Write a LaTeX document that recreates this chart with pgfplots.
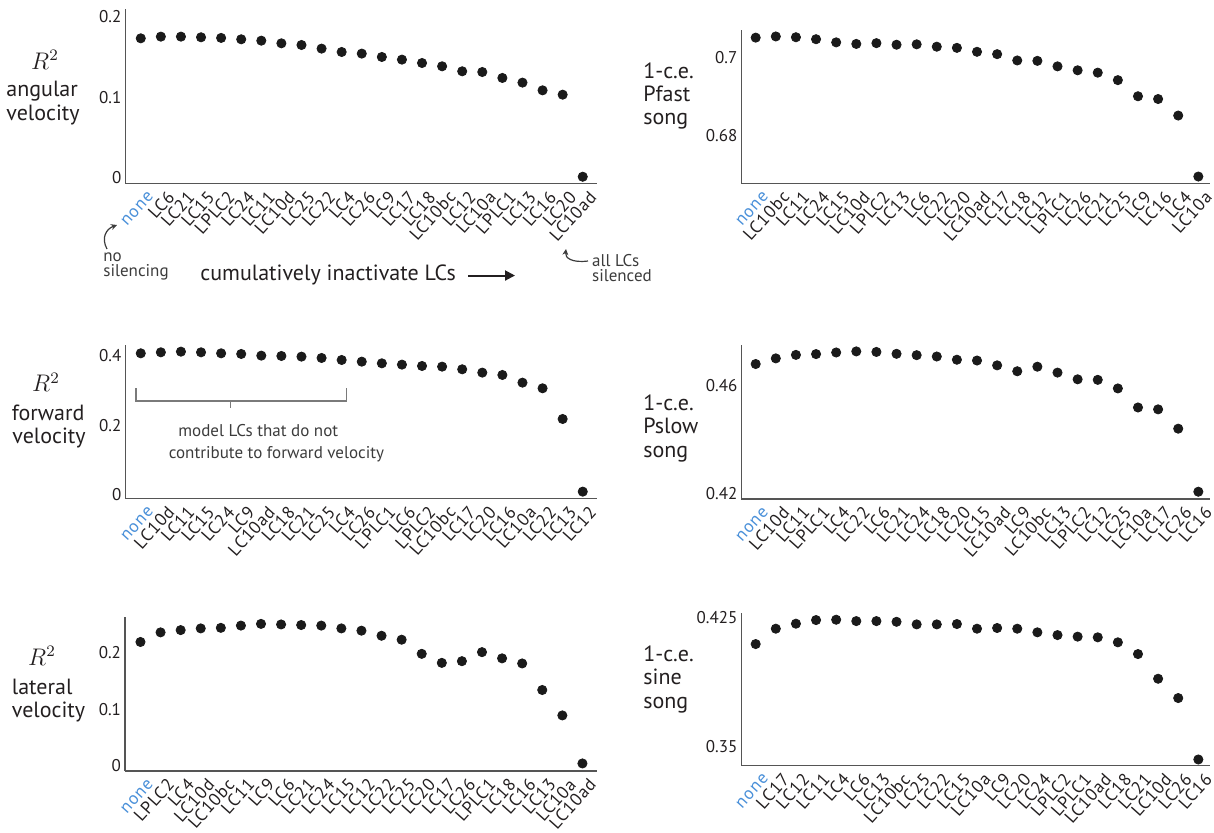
\documentclass[border=0pt]{standalone}
\usepackage[no-math]{fontspec}
\setmainfont{PT Sans}
\usepackage{pgfplots}
\pgfplotsset{compat=1.18}
\usetikzlibrary{arrows.meta}
\definecolor{dotc}{HTML}{1A1A1A}
\definecolor{axc}{HTML}{555555}
\definecolor{noneblue}{HTML}{4A90D9}
\definecolor{txt}{HTML}{231F20}
\definecolor{anng}{HTML}{3C3C3C}
\definecolor{brg}{HTML}{7A7A7A}
\newfontfamily\xtkfam[LetterSpace=5]{PT Sans}
\newcommand{\tk}{\fontsize{8.5}{9}\selectfont}
\newcommand{\xtk}{\xtkfam\fontsize{8.8}{9}\selectfont}
\newcommand{\lab}{\fontsize{11}{12}\selectfont}
\pgfplotsset{
  lcax/.style={
    scale only axis, anchor=south west, clip=false,
    axis lines=left,
    axis line style={-, draw=axc, line width=0.65pt},
    major tick length=0pt,
    xtick={0,...,22},
    xticklabel style={rotate=48, anchor=east, font=\xtk, text=txt, inner sep=0pt, yshift=-7.3pt, xshift=-0.4pt},
    yticklabel style={font=\tk, text=txt, inner sep=0pt, xshift=-1.8pt},
  },
  lft/.style={width=235.85pt, xmin=-0.77, xmax=22.71},
  rgt/.style={width=234.35pt, xmin=-0.715, xmax=22.58},
  dots/.style={only marks, mark=*, mark size=2.3pt, color=dotc},
}
\begin{document}
\begin{tikzpicture}
\path[use as bounding box] (0pt,0pt) rectangle (607pt,-416pt);

% Panel 1: angular velocity
\begin{axis}[lcax, lft, at={(62.65pt,-91.65pt)}, height=87pt,
  ymin=-0.00697, ymax=0.2095, ytick={0,0.1,0.2}, yticklabels={0,0.1,0.2},
  xticklabels={\textcolor{noneblue}{none},LC6,LC21,LC15,LPLC2,LC24,LC11,LC10d,LC25,LC22,LC4,LC26,LC9,LC17,LC18,LC10bc,LC12,LC10a,LPLC1,LC13,LC16,LC20,LC10ad}]
\addplot[dots] coordinates {(0,0.1734)(1,0.1755)(2,0.1755)(3,0.1747)(4,0.1739)(5,0.1722)(6,0.1705)(7,0.1672)(8,0.1651)(9,0.1606)(10,0.1564)(11,0.1544)(12,0.1502)(13,0.1469)(14,0.1427)(15,0.1386)(16,0.1324)(17,0.1315)(18,0.1241)(19,0.1183)(20,0.1087)(21,0.1033)(22,0.0012)};
\end{axis}

% Panel 2: Pfast song
\begin{axis}[lcax, rgt, at={(370.65pt,-91.65pt)}, height=76.65pt,
  ymin=0.66798, ymax=0.70694, ytick={0.68,0.7}, yticklabels={0.68,0.7},
  xticklabels={\textcolor{noneblue}{none},LC10bc,LC11,LC24,LC15,LC10d,LPLC2,LC13,LC6,LC22,LC20,LC10ad,LC17,LC18,LC12,LPLC1,LC26,LC21,LC25,LC9,LC16,LC4,LC10a}]
\addplot[dots] coordinates {(0,0.7050)(1,0.7053)(2,0.7051)(3,0.7046)(4,0.7038)(5,0.7034)(6,0.7036)(7,0.7032)(8,0.7033)(9,0.7027)(10,0.7024)(11,0.7014)(12,0.7008)(13,0.6992)(14,0.6991)(15,0.6977)(16,0.6967)(17,0.6961)(18,0.6942)(19,0.6901)(20,0.6894)(21,0.6852)(22,0.6697)};
\end{axis}

% Panel 3: forward velocity
\begin{axis}[lcax, lft, at={(62.65pt,-249.15pt)}, height=76.65pt,
  ymin=-0.0116, ymax=0.4315, ytick={0,0.2,0.4}, yticklabels={0,0.2,0.4},
  xticklabels={\textcolor{noneblue}{none},LC10d,LC11,LC15,LC24,LC9,LC10ad,LC18,LC21,LC25,LC4,LC26,LPLC1,LC6,LPLC2,LC10bc,LC17,LC20,LC16,LC10a,LC22,LC13,LC12}]
\addplot[dots] coordinates {(0,0.4075)(1,0.4104)(2,0.4123)(3,0.4104)(4,0.4075)(5,0.4056)(6,0.4008)(7,0.3998)(8,0.3979)(9,0.3940)(10,0.3882)(11,0.3834)(12,0.3786)(13,0.3748)(14,0.3709)(15,0.3690)(16,0.3613)(17,0.3517)(18,0.3449)(19,0.3227)(20,0.3064)(21,0.2177)(22,0.0077)};
\end{axis}

% Panel 4: Pslow song
\begin{axis}[lcax, rgt, at={(370.65pt,-249.5pt)}, height=77pt,
  ymin=0.41788, ymax=0.47528, ytick={0.42,0.46}, yticklabels={0.42,0.46},
  xticklabels={\textcolor{noneblue}{none},LC10d,LC11,LPLC1,LC4,LC22,LC6,LC21,LC24,LC18,LC20,LC15,LC10ad,LC9,LC10bc,LC13,LPLC2,LC12,LC25,LC10a,LC17,LC26,LC16}]
\addplot[dots] coordinates {(0,0.4682)(1,0.4703)(2,0.4716)(3,0.4719)(4,0.4725)(5,0.4729)(6,0.4727)(7,0.4720)(8,0.4715)(9,0.4710)(10,0.4698)(11,0.4695)(12,0.4677)(13,0.4655)(14,0.4672)(15,0.4650)(16,0.4625)(17,0.4623)(18,0.4591)(19,0.4520)(20,0.4513)(21,0.4441)(22,0.4206)};
\end{axis}

% Panel 5: lateral velocity
\begin{axis}[lcax, lft, at={(62.5pt,-385.5pt)}, height=77.15pt,
  ymin=-0.0094, ymax=0.2637, ytick={0,0.1,0.2}, yticklabels={0,0.1,0.2},
  xticklabels={\textcolor{noneblue}{none},LPLC2,LC4,LC10d,LC10bc,LC11,LC9,LC6,LC21,LC24,LC15,LC12,LC22,LC25,LC20,LC17,LC26,LPLC1,LC18,LC16,LC13,LC10a,LC10ad}]
\addplot[dots] coordinates {(0,0.219)(1,0.236)(2,0.240)(3,0.243)(4,0.244)(5,0.248)(6,0.251)(7,0.250)(8,0.249)(9,0.248)(10,0.243)(11,0.239)(12,0.230)(13,0.223)(14,0.198)(15,0.182)(16,0.185)(17,0.201)(18,0.190)(19,0.181)(20,0.134)(21,0.089)(22,0.004)};
\end{axis}

% Panel 6: sine song
\begin{axis}[lcax, rgt, at={(370.65pt,-382.85pt)}, height=76.5pt,
  ymin=0.33899, ymax=0.42767, ytick={0.35,0.425}, yticklabels={0.35,0.425},
  xticklabels={\textcolor{noneblue}{none},LC17,LC12,LC11,LC4,LC6,LC13,LC10bc,LC25,LC22,LC15,LC10a,LC9,LC20,LC24,LPLC2,LPLC1,LC10ad,LC18,LC21,LC10d,LC26,LC16}]
\addplot[dots] coordinates {(0,0.4095)(1,0.4184)(2,0.4213)(3,0.4234)(4,0.4236)(5,0.4228)(6,0.4228)(7,0.4224)(8,0.4209)(9,0.4209)(10,0.4211)(11,0.4184)(12,0.4188)(13,0.4184)(14,0.4163)(15,0.4147)(16,0.4138)(17,0.4134)(18,0.4105)(19,0.4037)(20,0.3894)(21,0.3782)(22,0.3426)};
\end{axis}

\begin{scope}[x=0.5pt,y=-0.5pt]
% y labels, left column
\node[font=\fontsize{11.5}{12}\selectfont, anchor=base, text=txt] at (45,69.3) {$R^2$};
\node[font=\lab, anchor=base west, text=txt, inner sep=0pt] at (6,96.7) {angular};
\node[font=\lab, anchor=base west, text=txt, inner sep=0pt] at (6,120.7) {velocity};
\node[font=\fontsize{11.5}{12}\selectfont, anchor=base, text=txt] at (46,391.7) {$R^2$};
\node[font=\lab, anchor=base west, text=txt, inner sep=0pt] at (11.5,420.7) {forward};
\node[font=\lab, anchor=base west, text=txt, inner sep=0pt] at (12,443.3) {velocity};
\node[font=\fontsize{11.5}{12}\selectfont, anchor=base, text=txt] at (42,665) {$R^2$};
\node[font=\lab, anchor=base west, text=txt, inner sep=0pt] at (11.5,694) {lateral};
\node[font=\lab, anchor=base west, text=txt, inner sep=0pt] at (11.5,717.7) {velocity};
% y labels, right column
\node[font=\lab, anchor=base west, text=txt, inner sep=0pt] at (643,78.3) {1-c.e.};
\node[font=\lab, anchor=base west, text=txt, inner sep=0pt] at (643,101) {Pfast};
\node[font=\lab, anchor=base west, text=txt, inner sep=0pt] at (643,124.3) {song};
\node[font=\lab, anchor=base west, text=txt, inner sep=0pt] at (643,410) {1-c.e.};
\node[font=\lab, anchor=base west, text=txt, inner sep=0pt] at (643,433.3) {Pslow};
\node[font=\lab, anchor=base west, text=txt, inner sep=0pt] at (643,457.3) {song};
\node[font=\lab, anchor=base west, text=txt, inner sep=0pt] at (643,661.3) {1-c.e.};
\node[font=\lab, anchor=base west, text=txt, inner sep=0pt] at (643,684.3) {sine};
\node[font=\lab, anchor=base west, text=txt, inner sep=0pt] at (643,708.7) {song};
% annotations panel 1
\node[font=\tk, anchor=base west, text=anng, inner sep=0pt] at (103,261) {no};
\node[font=\tk, anchor=base west, text=anng, inner sep=0pt] at (103,276.7) {silencing};
\draw[anng, line width=0.6pt, -{Stealth[length=3pt,width=3pt]}] (107,249) .. controls (101,238) and (106,229) .. (117,225);
\node[font=\lab, anchor=base west, text=txt, inner sep=0pt] at (200,280) {cumulatively inactivate LCs};
\draw[txt, line width=1pt, -{Triangle[length=5pt,width=5pt]}] (468,275.5) -- (515,275.5);
\node[font=\tk, anchor=base west, text=anng, inner sep=0pt] at (591.7,266) {all LCs};
\node[font=\tk, anchor=base west, text=anng, inner sep=0pt] at (591.7,281) {silenced};
\draw[anng, line width=0.6pt, -{Stealth[length=3pt,width=3pt]}] (588,261) .. controls (572,263) and (565,258) .. (566,249);
% bracket panel 3
\draw[brg, line width=0.8pt] (135.9,388.3) -- (135.9,401) -- (346.3,401) -- (346.3,388.3);
\draw[brg, line width=0.8pt] (230.4,401) -- (230.4,408.3);
\node[font=\tk, anchor=base west, text=anng, inner sep=0pt] at (178,436) {model LCs that do not};
\node[font=\tk, anchor=base west, text=anng, inner sep=0pt] at (168.4,458.3) {contribute to forward velocity};
\end{scope}
\end{tikzpicture}
\end{document}
